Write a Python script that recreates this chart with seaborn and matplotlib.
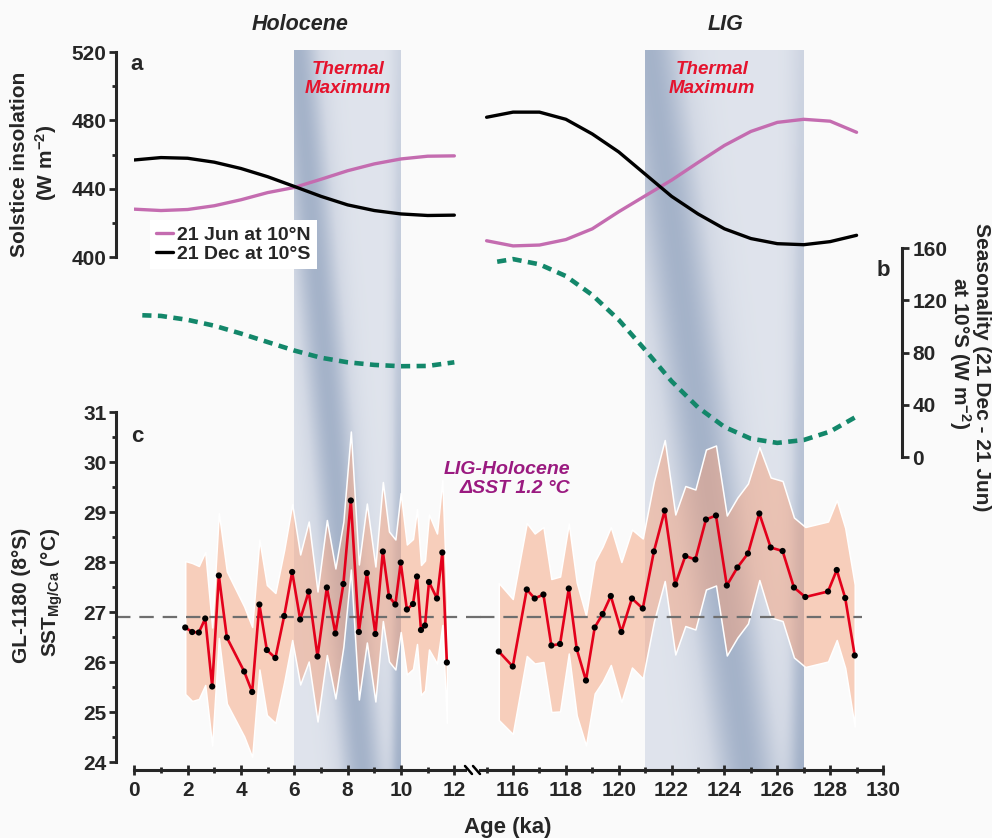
import numpy as np
import seaborn as sns
import matplotlib
matplotlib.use("Agg")
import matplotlib.pyplot as plt
from matplotlib.colors import LinearSegmentedColormap
from matplotlib.lines import Line2D
from matplotlib.ticker import MultipleLocator

# ---- values ----
# (a) solstice insolation, W m-2
hol_ins_age = [0, 1, 2, 3, 4, 5, 6, 7, 8, 9, 10, 11, 12]
hol_jun10n = [428.0, 427.2, 427.8, 430.0, 433.5, 437.7, 440.7, 445.5, 450.5, 454.5, 457.4, 459.0, 459.2]
hol_dec10s = [456.8, 458.2, 457.8, 455.5, 451.8, 447.0, 441.3, 435.5, 430.5, 427.2, 425.2, 424.3, 424.5]
lig_ins_age = [115, 116, 117, 118, 119, 120, 121, 122, 123, 124, 125, 126, 127, 128, 129]
lig_jun10n = [409.5, 406.5, 407.0, 410.2, 416.5, 426.5, 435.8, 445.0, 455.3, 465.3, 473.5, 478.8, 480.6, 479.5, 473.0]
lig_dec10s = [481.8, 484.8, 484.8, 480.6, 472.0, 461.5, 448.5, 435.5, 425.2, 416.5, 410.8, 407.8, 407.2, 409.0, 412.7]

# (b) seasonality at 10S, W m-2
hol_seas_age = [0.3, 1, 2, 3, 4, 5, 6, 7, 8, 9, 10, 11, 12]
hol_seas = [108.5, 108.0, 105.0, 100.5, 94.5, 88.0, 81.5, 76.0, 72.5, 70.5, 69.5, 69.7, 72.5]
lig_seas_age = [115.4, 116, 117, 118, 119, 120, 121, 122, 123, 124, 125, 126, 127, 128, 129]
lig_seas = [149.5, 151.5, 147.5, 138.5, 124.0, 105.0, 82.0, 58.0, 38.0, 23.0, 14.0, 10.8, 13.0, 19.5, 31.0]

# (c) GL-1180 Mg/Ca SST, degC, with uncertainty
hol_sst_age = [1.91, 2.17, 2.42, 2.66, 2.92, 3.17, 3.47, 4.12, 4.42, 4.69, 4.97, 5.29, 5.62,
               5.92, 6.22, 6.54, 6.87, 7.22, 7.54, 7.84, 8.12, 8.42, 8.72, 9.04, 9.32, 9.55,
               9.79, 9.99, 10.22, 10.45, 10.60, 10.75, 10.90, 11.05, 11.35, 11.55, 11.72]
hol_sst = [26.69, 26.60, 26.59, 26.87, 25.51, 27.73, 26.49, 25.81, 25.40, 27.15, 26.24, 26.08, 26.92,
           27.80, 26.85, 27.41, 26.11, 27.49, 26.57, 27.56, 29.23, 26.60, 27.78, 26.56, 28.21, 27.31,
           27.15, 27.99, 27.05, 27.16, 27.71, 26.64, 26.73, 27.60, 27.27, 28.19, 25.99]
hol_sst_err = [1.33, 1.38, 1.33, 1.33, 1.18, 1.25, 1.32, 1.30, 1.30, 1.30, 1.30, 1.30, 1.32,
               1.36, 1.30, 1.40, 1.30, 1.35, 1.30, 1.25, 1.38, 1.35, 1.39, 1.35, 1.39, 1.30,
               1.30, 1.39, 1.30, 1.30, 1.35, 1.30, 1.30, 1.35, 1.30, 1.45, 1.21]
lig_sst_age = [115.46, 115.99, 116.52, 116.82, 117.15, 117.45, 117.78, 118.11, 118.41, 118.76,
               119.09, 119.39, 119.70, 120.10, 120.50, 120.91, 121.33, 121.74, 122.14, 122.52,
               122.90, 123.30, 123.68, 124.09, 124.49, 124.89, 125.32, 125.75, 126.20, 126.63,
               127.06, 127.92, 128.25, 128.57, 128.93]
lig_sst = [26.21, 25.91, 27.45, 27.27, 27.35, 26.33, 26.36, 27.47, 26.26, 25.63,
           26.69, 26.96, 27.32, 26.60, 27.27, 27.07, 28.21, 29.03, 27.55, 28.12,
           28.05, 28.85, 28.93, 27.53, 27.89, 28.17, 28.97, 28.29, 28.22, 27.49,
           27.30, 27.41, 27.84, 27.28, 26.13]
lig_sst_err = [1.37, 1.35, 1.33, 1.30, 1.35, 1.33, 1.35, 1.30, 1.33, 1.30,
               1.32, 1.35, 1.38, 1.40, 1.38, 1.40, 1.40, 1.41, 1.40, 1.40,
               1.40, 1.40, 1.40, 1.40, 1.40, 1.40, 1.33, 1.40, 1.40, 1.40,
               1.40, 1.40, 1.40, 1.40, 1.42]
sst_ref = 26.9

hol_tm = (6, 10)
lig_tm = (121, 127)

# ---- style ----
W, H = 992, 838
sns.set_style("ticks")
plt.rcParams["font.family"] = ["Liberation Sans", "DejaVu Sans"]
plt.rcParams["font.weight"] = "bold"
plt.rcParams["axes.labelweight"] = "bold"
plt.rcParams["mathtext.fontset"] = "custom"
plt.rcParams["mathtext.rm"] = "Liberation Sans:bold"
plt.rcParams["mathtext.bf"] = "Liberation Sans:bold"
plt.rcParams["mathtext.it"] = "Liberation Sans:italic:bold"
NARROW = ["Liberation Sans Narrow", "DejaVu Sans Condensed", "Liberation Sans"]

PINK = "#c46cb0"
GREEN = "#13876a"
RED = "#e3001b"
band_cmap = LinearSegmentedColormap.from_list("tm", ["#f1f3f7", "#d2d8e4", "#9aaac3"])

fig = plt.figure(figsize=(W / 100, H / 100), dpi=100)
fig.patch.set_facecolor("#fafafa")


def px_axes(x0, y0, x1, y1):
    ax = fig.add_axes([x0 / W, 1 - y1 / H, (x1 - x0) / W, (y1 - y0) / H])
    ax.patch.set_visible(False)
    for s in ax.spines.values():
        s.set_visible(False)
    ax.tick_params(which="both", left=False, right=False, bottom=False, top=False,
                   labelleft=False, labelbottom=False, labelright=False)
    return ax


def ftext(x, y, s, **kw):
    return fig.text(x / W, 1 - y / H, s, **kw)


def band_image(nx=120, ny=240):
    # soft diagonal shading of the thermal-maximum bands
    u = np.linspace(0, 1, nx)[None, :]
    t = np.linspace(0, 1, ny)[:, None]
    centre = 0.02 + 0.62 * t
    streak = np.exp(-((u - centre) / 0.22) ** 2)
    right = np.exp(-((1 - u) / 0.09) ** 2) * (0.25 + 0.35 * t)
    return np.clip(0.28 + 0.62 * streak + right, 0, 1)


columns = [
    dict(x0=134.3, x1=465.0, xlim=(0, 12.4), tm=hol_tm,
         ins_age=hol_ins_age, jun=hol_jun10n, dec=hol_dec10s,
         seas_age=hol_seas_age, seas=hol_seas,
         sst_age=hol_sst_age, sst=hol_sst, err=hol_sst_err, ref=(-0.055, 1.05)),
    dict(x0=480.0, x1=883.0, xlim=(114.75, 130), tm=lig_tm,
         ins_age=lig_ins_age, jun=lig_jun10n, dec=lig_dec10s,
         seas_age=lig_seas_age, seas=lig_seas,
         sst_age=lig_sst_age, sst=lig_sst, err=lig_sst_err, ref=(0.0, 0.948)),
]

axes = []
for i, col in enumerate(columns):
    x0, x1 = col["x0"], col["x1"]

    bg = px_axes(x0, 50, x1, 770)
    bg.imshow(band_image(), extent=(col["tm"][0], col["tm"][1], 0, 1), aspect="auto",
              cmap=band_cmap, vmin=0, vmax=1, origin="upper", interpolation="bilinear")
    bg.set_xlim(col["xlim"])
    bg.set_ylim(0, 1)

    # (b) seasonality
    ax_b = px_axes(x0, 248, x1, 457)
    sns.lineplot(x=col["seas_age"], y=col["seas"], ax=ax_b, color=GREEN, lw=3.3,
                 linestyle=(0, (2.0, 1.4)))
    ax_b.set_xlim(col["xlim"])
    ax_b.set_ylim(0, 160)

    # (c) SST
    ax_c = px_axes(x0, 412, x1, 762)
    sst = np.array(col["sst"])
    err = np.array(col["err"])
    ax_c.fill_between(col["sst_age"], sst - err, sst + err, facecolor=(0.965, 0.64, 0.49, 0.5),
                      edgecolor="white", lw=1.1, zorder=1)
    ax_c.axhline(sst_ref, xmin=col["ref"][0], xmax=col["ref"][1], color="#6e6e6e", lw=1.6,
                 dashes=(6.5, 4), clip_on=False, zorder=2)
    sns.lineplot(x=col["sst_age"], y=col["sst"], ax=ax_c, color=RED, lw=1.9, zorder=3)
    sns.scatterplot(x=col["sst_age"], y=col["sst"], ax=ax_c, color="black", s=20,
                    edgecolor="none", zorder=4)
    ax_c.set_xlim(col["xlim"])
    ax_c.set_ylim(24, 31)

    # (a) insolation
    ax_a = px_axes(x0, 52, x1, 257)
    sns.lineplot(x=col["ins_age"], y=col["jun"], ax=ax_a, color=PINK, lw=2.4,
                 label="21 Jun at 10°N" if i == 0 else None)
    sns.lineplot(x=col["ins_age"], y=col["dec"], ax=ax_a, color="black", lw=2.4,
                 label="21 Dec at 10°S" if i == 0 else None)
    ax_a.set_xlim(col["xlim"])
    ax_a.set_ylim(400, 520)

    for ax in (ax_a, ax_b, ax_c):
        ax.set_xlabel("")
        ax.set_ylabel("")

    # bottom age axis
    ax_c.spines["bottom"].set_visible(True)
    ax_c.spines["bottom"].set_position(("outward", 6))
    ax_c.spines["bottom"].set_linewidth(2.2)
    ax_c.xaxis.set_major_locator(MultipleLocator(2))
    ax_c.xaxis.set_minor_locator(MultipleLocator(1))
    ax_c.tick_params(axis="x", which="both", bottom=True, labelbottom=True, direction="inout",
                     width=2, labelsize=15, pad=4)
    ax_c.tick_params(axis="x", which="major", length=7)
    ax_c.tick_params(axis="x", which="minor", length=5)
    for lbl in ax_c.get_xticklabels():
        lbl.set_fontfamily(NARROW)
    axes.append((ax_a, ax_b, ax_c))

ax_a, ax_b, ax_c = axes[0]
ax_bR = axes[1][1]

# left y axes (a) and (c)
for ax, major, minor in ((ax_a, 40, 20), (ax_c, 1, 0.5)):
    ax.spines["left"].set_visible(True)
    ax.spines["left"].set_position(("outward", 13))
    ax.spines["left"].set_linewidth(2.2)
    ax.yaxis.set_major_locator(MultipleLocator(major))
    ax.yaxis.set_minor_locator(MultipleLocator(minor))
    ax.tick_params(axis="y", which="both", left=True, labelleft=True, direction="out",
                   width=2, labelsize=15, pad=2)
    ax.tick_params(axis="y", which="major", length=5)
    ax.tick_params(axis="y", which="minor", length=3)

# right y axis (b)
ax_bR.spines["right"].set_visible(True)
ax_bR.spines["right"].set_position(("outward", 14))
ax_bR.spines["right"].set_linewidth(2.2)
ax_bR.yaxis.set_major_locator(MultipleLocator(40))
ax_bR.yaxis.tick_right()
ax_bR.tick_params(axis="y", which="major", right=True, labelright=True, left=False,
                  labelleft=False, direction="out", width=2, length=5, labelsize=15, pad=2)

leg = ax_a.legend(loc="lower left", bbox_to_anchor=(150 / W, 1 - 269 / H),
                  bbox_transform=fig.transFigure, fontsize=14, frameon=True,
                  facecolor="white", edgecolor="none", fancybox=False, framealpha=1,
                  handlelength=0.9, handletextpad=0.2, labelspacing=0.1, borderpad=0.3,
                  borderaxespad=0)

# axis break marks
for dx in (0, 8):
    fig.add_artist(Line2D([(465 + dx) / W, (472 + dx) / W], [1 - 766 / H, 1 - 774 / H],
                          color="black", lw=1.8))

# ---- texts ----
ftext(300, 25, "Holocene", ha="center", va="center", fontsize=15.5, style="italic")
ftext(726, 25, "LIG", ha="center", va="center", fontsize=15.5, style="italic")
for x in (348, 712):
    ftext(x, 79, "Thermal\nMaximum", ha="center", va="center", fontsize=13.5, style="italic",
          color="#e5132d", linespacing=1.2)
ftext(137, 65, "a", ha="center", va="center", fontsize=16)
ftext(137, 436, "c", ha="center", va="center", fontsize=16)
ftext(883, 270, "b", ha="center", va="center", fontsize=16)
ftext(570, 479, "LIG-Holocene\n\u0394SST 1.2 \u00b0C", ha="right", va="center", fontsize=14,
      style="italic", color="#9a1a80", multialignment="right", linespacing=1.1)

ftext(20, 164, "Solstice insolation", rotation=90, ha="center", va="center", fontsize=15)
ftext(46, 163, "(W m$^{-2}$)", rotation=90, ha="center", va="center", fontsize=15)
ftext(22, 595, "GL-1180 (8°S)", rotation=90, ha="center", va="center", fontsize=15)
ftext(52, 592, "SST$_{\\mathrm{Mg/Ca}}$ (°C)", rotation=90, ha="center", va="center", fontsize=15)
ftext(982, 367, "Seasonality (21 Dec - 21 Jun)", rotation=-90, ha="center", va="center", fontsize=15)
ftext(960, 353, "at 10°S (W m$^{-2}$)", rotation=-90, ha="center", va="center", fontsize=15)
ftext(508, 827, "Age (ka)", ha="center", va="center", fontsize=16, family=NARROW)

fig.savefig("out.png", dpi=100, facecolor=fig.get_facecolor())
